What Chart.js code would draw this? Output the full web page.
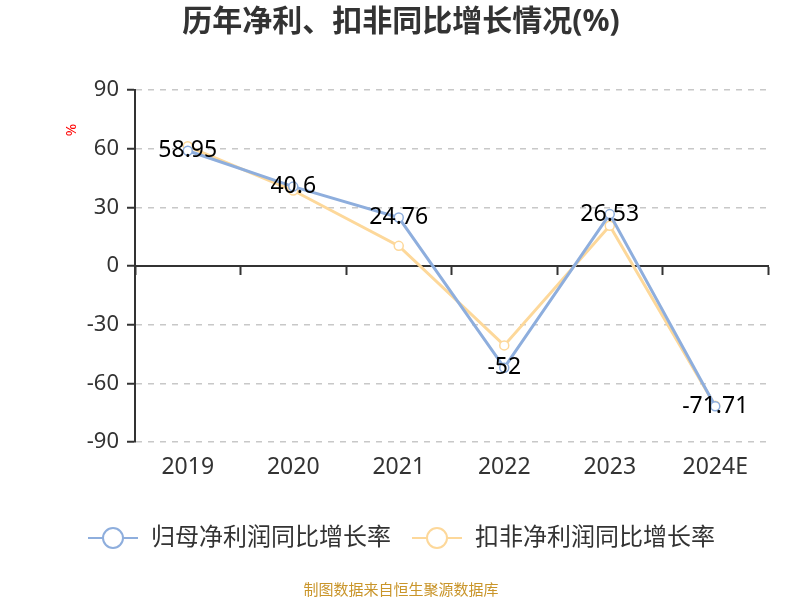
<!DOCTYPE html>
<html>
<head>
<meta charset="utf-8">
<script src="https://cdn.jsdelivr.net/npm/chart.js@4.4.1/dist/chart.umd.min.js"></script>
<style>
  html, body { margin: 0; padding: 0; background: #fff; }
  #wrap { width: 800px; height: 600px; }
</style>
</head>
<body>
<div id="wrap"><canvas id="chart_growth"></canvas></div>
<script>
var years = ['2019', '2020', '2021', '2022', '2023', '2024E'];
var netProfitGrowth = [58.95, 40.6, 24.76, -52, 26.53, -71.71];
var deductedGrowth = [61.2, 38.6, 10.3, -40.6, 20.6, -71.5];
var yTicks = [-90, -60, -30, 0, 30, 60, 90];

var FONT = '"Noto Sans", "Noto Sans CJK SC", sans-serif';

// legend icon: short line with an open circle in the middle
function legendIcon(color) {
    var c = document.createElement('canvas');
    c.width = 52; c.height = 26;
    var g = c.getContext('2d');
    g.strokeStyle = color;
    g.lineWidth = 2;
    g.beginPath(); g.moveTo(1, 13); g.lineTo(51, 13); g.stroke();
    g.fillStyle = '#fff';
    g.beginPath(); g.arc(26, 13, 10, 0, Math.PI * 2); g.fill(); g.stroke();
    return c;
}

// value labels for the first series, centered on each point; "%" unit mark
var valueLabels = {
    id: 'valueLabels',
    afterDatasetsDraw: function (chart) {
        var ctx = chart.ctx;
        var meta = chart.getDatasetMeta(0);
        ctx.save();
        ctx.font = '23px ' + FONT;
        ctx.fillStyle = '#000';
        ctx.textAlign = 'center';
        ctx.textBaseline = 'middle';
        meta.data.forEach(function (pt, i) {
            ctx.fillText(String(netProfitGrowth[i]), pt.x, pt.y);
        });
        // unit
        var area = chart.chartArea;
        ctx.translate(area.left - 63, area.top + 40);
        ctx.rotate(-Math.PI / 2);
        ctx.font = '15px ' + FONT;
        ctx.fillStyle = '#f00';
        ctx.fillText('%', 0, 0);
        ctx.restore();
    }
};

var ctx = document.getElementById('chart_growth').getContext('2d');
var chart = new Chart(ctx, {
    type: 'line',
    data: {
        labels: years,
        datasets: [{
            label: '归母净利润同比增长率',
            data: netProfitGrowth,
            borderColor: '#8eaedd',
            backgroundColor: '#fff',
            borderWidth: 3,
            pointRadius: 4.5,
            pointBorderWidth: 1.5,
            pointBackgroundColor: '#fff',
            pointBorderColor: '#8eaedd',
            tension: 0
        }, {
            label: '扣非净利润同比增长率',
            data: deductedGrowth,
            borderColor: '#fdd89a',
            backgroundColor: '#fff',
            borderWidth: 3,
            pointRadius: 4.5,
            pointBorderWidth: 1.5,
            pointBackgroundColor: '#fff',
            pointBorderColor: '#fdd89a',
            tension: 0
        }]
    },
    options: {
        responsive: true,
        maintainAspectRatio: false,
        animation: false,
        layout: { padding: { left: 34, right: 32, top: 0, bottom: 0 } },
        plugins: {
            title: {
                display: true,
                text: '历年净利、扣非同比增长情况(%)',
                color: '#333',
                font: { family: FONT, size: 30, weight: 'bold' },
                padding: { top: 4, bottom: 50 }
            },
            subtitle: {
                display: true,
                position: 'bottom',
                text: '制图数据来自恒生聚源数据库',
                color: '#c9952a',
                font: { family: FONT, size: 15 },
                padding: { top: 22, bottom: 0 }
            },
            legend: {
                position: 'bottom',
                labels: {
                    usePointStyle: true,
                    pointStyleWidth: 52,
                    color: '#333',
                    font: { family: FONT, size: 24 },
                    padding: 20,
                    generateLabels: function (chart) {
                        return chart.data.datasets.map(function (ds, i) {
                            return {
                                text: ds.label,
                                pointStyle: legendIcon(ds.borderColor),
                                fillStyle: '#fff',
                                strokeStyle: ds.borderColor,
                                lineWidth: 0,
                                datasetIndex: i,
                                fontColor: '#333'
                            };
                        });
                    }
                }
            },
            tooltip: { enabled: false }
        },
        scales: {
            x: {
                type: 'category',
                offset: true,
                border: { display: false },
                grid: { display: false },
                ticks: {
                    color: '#333',
                    font: { family: FONT, size: 23 },
                    padding: 4
                },
                afterFit: function (axis) { axis.height = 64; }
            },
            x0: {
                type: 'category',
                labels: years,
                offset: true,
                position: { y: 0 },
                border: { display: true, color: '#333', width: 2 },
                grid: {
                    drawOnChartArea: false,
                    drawTicks: true,
                    tickLength: 8,
                    tickColor: '#333',
                    tickWidth: 2,
                    offset: true
                },
                ticks: { display: false }
            },
            y: {
                min: -90,
                max: 90,
                afterBuildTicks: function (axis) {
                    axis.ticks = yTicks.map(function (v) { return { value: v }; });
                },
                afterFit: function (axis) { axis.width = 101; },
                border: { display: true, color: '#333', width: 2, dash: [6, 6] },
                grid: {
                    color: function (c) { return c.tick && c.tick.value === 0 ? 'rgba(0,0,0,0)' : '#c8c8c8'; },
                    lineWidth: 1.5,
                    tickColor: '#333',
                    tickLength: 8,
                    tickWidth: 2
                },
                ticks: {
                    color: '#333',
                    font: { family: FONT, size: 22 },
                    padding: 8
                }
            }
        }
    },
    plugins: [valueLabels]
});
</script>
</body>
</html>
